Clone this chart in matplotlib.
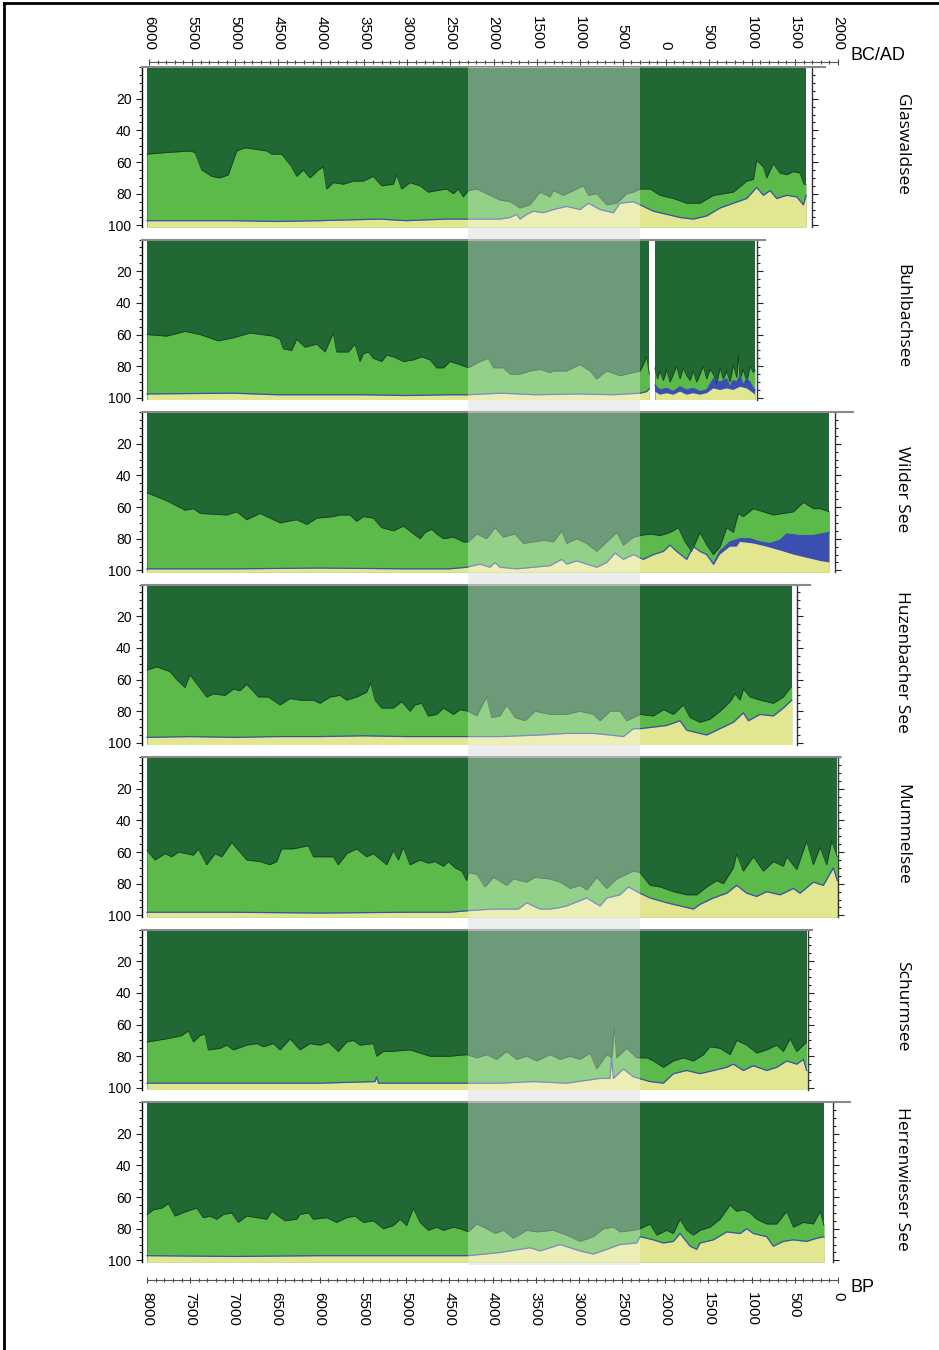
import numpy as np
import matplotlib.pyplot as plt
import matplotlib.transforms as mtransforms
from matplotlib.patches import Rectangle
from matplotlib.lines import Line2D
from matplotlib.ticker import FixedLocator, MultipleLocator

plt.rcParams['font.family'] = ['Liberation Sans Narrow', 'Liberation Sans', 'DejaVu Sans']

DARK = '#226835'
LIGHT = '#5cba4b'
YELLOW = '#e3e690'
BLUE = '#3a4fb0'
EDGE = '#173f22'

lakes = ['Glaswaldsee', 'Buhlbachsee', 'Wilder See', 'Huzenbacher See',
         'Mummelsee', 'Schurmsee', 'Herrenwieser See']

# ---- data: BP ages and cumulative percent boundaries (0 = top) ----
# Glaswaldsee
glas_bp_top = [8000, 7772, 7502, 7444, 7367, 7251, 7155, 7058, 6962, 6865, 6730, 6614, 6557, 6441, 6325,
               6267, 6190, 6113, 6016, 5959, 5920, 5843, 5727, 5611, 5495, 5380, 5283, 5148, 5110, 5052,
               4955, 4839, 4743, 4646, 4531, 4453, 4396, 4338, 4280, 4183, 4029, 3913, 3797, 3681, 3566,
               3450, 3334, 3296, 3180, 3064, 2948, 2890, 2794, 2678, 2562, 2447, 2369, 2292, 2176, 2061,
               1906, 1752, 1598, 1443, 1212, 1057, 980, 942, 864, 826, 749, 671, 594, 517, 440, 394, 370]
glas_trees = [55, 54, 53, 54, 65, 69, 70, 68, 53, 51, 52, 53, 55, 55, 63, 69, 65, 70, 65, 63,
              77, 73, 74, 72, 72, 69, 75, 74, 68, 77, 73, 75, 79, 78, 77, 80, 77, 82, 78, 77,
              81, 84, 85, 89, 87, 79, 82, 78, 81, 78, 75, 81, 80, 87, 86, 80, 79, 77, 77, 81,
              83, 86, 86, 81, 79, 72, 71, 59, 63, 70, 61, 67, 68, 66, 67, 74, 74]
glas_bp_low = [8000, 7000, 6500, 6000, 5300, 5000, 4531, 4280, 3913, 3797, 3720, 3681, 3604, 3527, 3411,
               3296, 3141, 2987, 2890, 2755, 2601, 2524, 2369, 2292, 2138, 1984, 1829, 1675, 1520, 1366,
               1212, 1057, 942, 864, 787, 710, 594, 478, 401, 370]
glas_light = [97, 97, 97.5, 97, 96, 97, 96, 96, 96, 95, 93, 96, 93, 91, 92, 90, 88, 90, 86, 90,
              92, 86, 85, 87, 91, 93, 95, 96, 94, 89, 86, 83, 76, 81, 78, 83, 81, 82, 87, 81]

# Buhlbachsee (two sections separated by a hiatus)
buhl_bp_top = [8000, 7772, 7560, 7386, 7174, 7000, 6807, 6537, 6460, 6422, 6325, 6267, 6171, 6036, 5939,
               5843, 5804, 5669, 5592, 5534, 5495, 5437, 5380, 5283, 5225, 5148, 5032, 4917, 4820, 4724,
               4646, 4569, 4492, 4376, 4280, 4145, 4048, 3990, 3875, 3797, 3681, 3566, 3450, 3334, 3296,
               3141, 2987, 2871, 2794, 2678, 2524, 2369, 2292, 2254, 2215, 2184]
buhl_trees = [60, 61, 58, 60, 64, 62, 59, 61, 63, 69, 70, 63, 68, 66, 71, 59, 71, 71, 66, 77,
              72, 71, 75, 77, 73, 74, 77, 76, 74, 76, 81, 81, 77, 79, 81, 77, 75, 81, 81, 85,
              85, 83, 82, 84, 83, 83, 79, 83, 88, 83, 86, 84, 83, 79, 74, 85]
buhl_bp_low = [8000, 7000, 6500, 5500, 5000, 4500, 4280, 3900, 3500, 3000, 2600, 2292, 2215, 2184]
buhl_light = [97.5, 97, 98, 98, 98.5, 98, 98, 97, 98, 97.5, 98, 97, 96, 94]

buhl2_bp_top = [2119, 2090, 2061, 2022, 1984, 1945, 1906, 1868, 1829, 1791, 1752, 1713, 1675, 1636, 1598,
                1559, 1520, 1482, 1443, 1405, 1366, 1328, 1289, 1250, 1212, 1173, 1154, 1134, 1096, 1057,
                1019, 980, 961]
buhl2_trees = [81, 88, 83, 89, 82, 90, 85, 80, 88, 81, 86, 89, 83, 90, 85, 80, 88, 82, 85, 91,
               81, 88, 83, 90, 79, 87, 73, 88, 82, 90, 80, 84, 82]
buhl2_bp_low = [2119, 2061, 1984, 1906, 1829, 1752, 1675, 1598, 1520, 1443, 1366, 1289, 1250, 1212, 1173,
                1134, 1096, 1057, 1019, 980, 961]
buhl2_light = [92, 95, 94, 96, 93, 95, 94, 96, 95, 88, 90, 88, 93, 89, 90, 86, 92, 88, 90, 94, 95]
buhl2_bp_yel = [2119, 2061, 1984, 1906, 1829, 1752, 1675, 1598, 1520, 1443, 1366, 1289, 1212, 1134, 1057,
                980, 961]
buhl2_yellow = [96, 98, 97, 98, 96, 98, 97, 98, 97, 94, 95, 94, 95, 93, 94, 97, 98]

# Wilder See
wild_bp_top = [8000, 7772, 7560, 7463, 7386, 7078, 6962, 6846, 6692, 6576, 6460, 6267, 6151, 6036, 5843,
               5766, 5650, 5573, 5495, 5380, 5283, 5148, 5032, 4936, 4839, 4781, 4704, 4646, 4569, 4453,
               4338, 4280, 4183, 4068, 3971, 3875, 3740, 3643, 3411, 3296, 3199, 3141, 3025, 2910, 2794,
               2678, 2562, 2485, 2369, 2292, 2176, 2061, 1945, 1848, 1771, 1694, 1598, 1520, 1443, 1366,
               1289, 1212, 1154, 1096, 980, 864, 749, 633, 517, 401, 286, 208, 100]
wild_trees = [51, 56, 62, 61, 64, 65, 63, 68, 64, 67, 70, 68, 71, 67, 66, 65, 65, 69, 66, 67,
              73, 75, 72, 76, 80, 76, 74, 77, 80, 79, 82, 82, 77, 80, 73, 79, 77, 83, 81, 82,
              75, 83, 80, 83, 88, 82, 76, 84, 79, 78, 77, 78, 76, 73, 82, 88, 76, 84, 90, 85,
              73, 76, 64, 66, 61, 63, 65, 64, 63, 57, 61, 61, 63]
wild_bp_low = [8000, 7000, 6000, 5000, 4500, 4299, 4145, 4029, 3971, 3913, 3720, 3527, 3334, 3199, 3141,
               3025, 2910, 2794, 2678, 2582, 2485, 2369, 2254, 2138, 2022, 1945, 1868, 1752, 1675, 1598,
               1520, 1443, 1366, 1250, 1134, 1019, 903, 787, 671, 594, 440, 286, 100]
wild_light = [99, 99, 98.5, 99, 99, 98, 96, 98, 95, 98, 99, 98, 97, 93, 96, 94, 96, 98, 95, 89,
              93, 90, 93, 90, 88, 84, 88, 93, 85, 88, 90, 96, 88, 82, 80, 80, 82, 83, 81, 77,
              78, 78, 76]
wild_bp_yel = [1443, 1366, 1250, 1173, 1134, 980, 826, 633, 517, 363, 208, 100]
wild_yellow = [97, 90, 85, 85, 82, 83, 85, 88, 90, 92, 94, 95]

# Huzenbacher See
huz_bp_top = [8000, 7888, 7734, 7656, 7560, 7502, 7406, 7309, 7232, 7097, 7000, 6923, 6846, 6711, 6595,
              6460, 6344, 6229, 6074, 5997, 5881, 5766, 5688, 5573, 5457, 5410, 5360, 5283, 5148, 5052,
              4955, 4897, 4820, 4743, 4646, 4569, 4453, 4376, 4280, 4183, 4068, 4010, 3913, 3836, 3740,
              3624, 3508, 3334, 3141, 2987, 2832, 2755, 2640, 2524, 2447, 2292, 2138, 2022, 1906, 1791,
              1713, 1598, 1482, 1366, 1250, 1192, 1134, 1096, 1019, 903, 749, 633, 536]
huz_trees = [54, 52, 55, 60, 65, 57, 64, 71, 69, 70, 66, 67, 63, 71, 71, 76, 72, 73, 73, 75,
             71, 70, 73, 71, 68, 62, 73, 78, 78, 74, 80, 76, 75, 83, 82, 78, 82, 79, 80, 83,
             71, 84, 83, 76, 84, 86, 80, 82, 82, 80, 82, 86, 80, 80, 86, 82, 83, 79, 82, 76,
             84, 87, 85, 80, 74, 69, 73, 66, 71, 73, 75, 71, 64]
huz_bp_low = [8000, 7500, 7000, 6500, 6000, 5500, 5000, 4500, 4280, 3913, 3681, 3450, 3141, 2832, 2640,
              2485, 2369, 2292, 2138, 1984, 1829, 1752, 1598, 1520, 1366, 1212, 1096, 1038, 903, 749,
              633, 536]
huz_light = [96.5, 96, 96.5, 96, 96, 95.5, 96, 96, 96, 96, 95.5, 95, 94, 94, 95, 96, 91, 91, 90, 89,
             86, 92, 94, 95, 91, 87, 81, 86, 82, 83, 78, 73]

# Mummelsee
mum_bp_top = [8000, 7907, 7792, 7714, 7637, 7541, 7463, 7406, 7309, 7213, 7135, 7020, 6846, 6692, 6576,
              6499, 6441, 6306, 6132, 6074, 5843, 5785, 5688, 5573, 5457, 5380, 5225, 5148, 5090, 5032,
              4955, 4839, 4743, 4666, 4569, 4511, 4434, 4357, 4299, 4280, 4183, 4087, 3990, 3836, 3759,
              3604, 3508, 3334, 3218, 3103, 2987, 2910, 2794, 2678, 2562, 2447, 2369, 2292, 2176, 2061,
              1906, 1752, 1636, 1520, 1405, 1328, 1212, 1173, 1096, 980, 864, 749, 633, 594, 478,
              363, 286, 208, 131, 73, 8]
mum_trees = [59, 65, 61, 63, 60, 61, 62, 58, 68, 61, 63, 54, 65, 66, 68, 66, 58, 58, 56, 63,
             63, 68, 61, 58, 63, 61, 68, 59, 65, 57, 68, 65, 67, 66, 69, 66, 70, 72, 78, 73,
             74, 82, 76, 81, 77, 79, 76, 77, 79, 83, 81, 84, 76, 83, 77, 74, 72, 73, 81, 82,
             85, 87, 87, 82, 78, 80, 70, 61, 72, 63, 72, 66, 69, 63, 71, 53, 68, 57, 68, 53, 63]
mum_bp_low = [8000, 7000, 6000, 5000, 4500, 4280, 4000, 3700, 3604, 3450, 3334, 3218, 3141, 2910, 2755,
              2678, 2524, 2427, 2292, 2176, 1984, 1829, 1675, 1598, 1443, 1289, 1173, 1057, 942, 826,
              671, 517, 440, 286, 170, 54, 8]
mum_light = [98, 98, 98.5, 98, 98, 97, 96, 96, 92, 96, 96, 95, 94, 89, 94, 89, 87, 82, 86, 89,
             92, 94, 96, 93, 89, 86, 81, 86, 88, 85, 87, 83, 86, 79, 81, 70, 78]

# Schurmsee
sch_bp_top = [8000, 7772, 7599, 7521, 7463, 7386, 7328, 7290, 7155, 7078, 7000, 6846, 6730, 6653, 6537,
              6460, 6344, 6229, 6113, 5997, 5901, 5785, 5688, 5611, 5534, 5380, 5341, 5264, 5187, 4955,
              4724, 4492, 4299, 4183, 4068, 3952, 3836, 3720, 3604, 3489, 3334, 3218, 3103, 2987, 2871,
              2794, 2678, 2620, 2589, 2562, 2447, 2331, 2215, 2138, 2022, 1906, 1791, 1675, 1559, 1482,
              1366, 1250, 1173, 1057, 942, 826, 710, 633, 556, 478, 363]
sch_trees = [71, 69, 67, 64, 71, 67, 66, 76, 75, 73, 76, 73, 72, 74, 72, 76, 69, 76, 72, 73,
             71, 77, 71, 70, 73, 72, 80, 77, 77, 76, 80, 80, 79, 81, 79, 82, 77, 82, 80, 83,
             79, 82, 80, 82, 78, 88, 79, 81, 62, 81, 75, 81, 81, 83, 87, 83, 81, 83, 79, 74,
             75, 79, 70, 73, 78, 76, 73, 77, 69, 77, 71]
sch_bp_low = [8000, 7000, 6000, 5360, 5341, 5320, 4500, 4000, 3913, 3527, 3141, 2755, 2640, 2620, 2600,
              2582, 2485, 2369, 2176, 2022, 1906, 1752, 1598, 1443, 1289, 1212, 1096, 980, 826, 710,
              594, 478, 401, 363]
sch_light = [97, 97, 97, 96, 93, 97, 97, 97, 97, 96, 97, 94, 94, 81, 94, 93, 88, 93, 96, 97,
             91, 89, 91, 89, 87, 85, 89, 86, 89, 87, 83, 85, 82, 89]

# Herrenwieser See
her_bp_top = [8000, 7927, 7830, 7753, 7676, 7541, 7425, 7348, 7271, 7193, 7116, 7020, 6943, 6846, 6730,
              6614, 6557, 6402, 6267, 6229, 6132, 6074, 5920, 5804, 5688, 5592, 5495, 5380, 5264, 5148,
              5071, 4994, 4917, 4839, 4743, 4646, 4569, 4453, 4376, 4280, 4183, 4068, 3971, 3875, 3759,
              3604, 3489, 3296, 3141, 2987, 2832, 2717, 2601, 2524, 2369, 2292, 2176, 2099, 1984, 1906,
              1829, 1752, 1675, 1598, 1482, 1366, 1250, 1173, 1096, 1019, 942, 826, 710, 594, 517,
              401, 286, 208, 162]
her_trees = [71, 68, 67, 64, 72, 69, 67, 73, 72, 74, 71, 70, 76, 72, 73, 74, 69, 75, 74, 71,
             70, 74, 73, 76, 73, 72, 76, 75, 80, 78, 74, 78, 67, 76, 81, 79, 81, 79, 80, 82,
             77, 80, 83, 81, 86, 81, 82, 81, 84, 88, 85, 80, 79, 82, 81, 80, 77, 84, 81, 83,
             74, 81, 84, 81, 79, 74, 65, 69, 68, 70, 74, 77, 77, 69, 79, 76, 77, 69, 78]
her_bp_low = [8000, 7000, 6000, 5000, 4500, 4280, 3913, 3681, 3566, 3450, 3218, 2987, 2832, 2678, 2524,
              2331, 2292, 2138, 2022, 1906, 1829, 1713, 1636, 1598, 1443, 1289, 1134, 1057, 980, 826,
              749, 633, 517, 363, 247, 162]
her_light = [97, 97.5, 97, 97, 97, 97, 95, 93, 92, 94, 90, 94, 96, 93, 90, 89, 85, 87, 89, 88,
             83, 91, 93, 89, 87, 82, 83, 80, 83, 85, 91, 88, 87, 88, 86, 85]

band_bp = [4280, 2292]            # highlighted period (BP)
bc_ticks = list(range(-6000, 2001, 500))
bc_labels = [str(abs(v)) for v in bc_ticks]
bp_ticks = list(range(8000, -1, -500))
bp_labels = [str(v) for v in bp_ticks]
pct_ticks = [20, 40, 60, 80, 100]
pct_labels = ['20', '40', '60', '80', '100']

segments = [
    [(glas_bp_top, glas_trees, glas_bp_low, glas_light, None, None)],
    [(buhl_bp_top, buhl_trees, buhl_bp_low, buhl_light, None, None),
     (buhl2_bp_top, buhl2_trees, buhl2_bp_low, buhl2_light, buhl2_bp_yel, buhl2_yellow)],
    [(wild_bp_top, wild_trees, wild_bp_low, wild_light, wild_bp_yel, wild_yellow)],
    [(huz_bp_top, huz_trees, huz_bp_low, huz_light, None, None)],
    [(mum_bp_top, mum_trees, mum_bp_low, mum_light, None, None)],
    [(sch_bp_top, sch_trees, sch_bp_low, sch_light, None, None)],
    [(her_bp_top, her_trees, her_bp_low, her_light, None, None)],
]
# layout: right spine and top border end, in BP
spine_bp = [300, 938, 40, 475, 0, 347, 58]
topline_bp = [150, 845, -174, 324, -20, 300, -139]

W, H = 939, 1350
fig = plt.figure(figsize=(W / 100, H / 100), dpi=100)


def fx(px):
    return px / W


def fy(py):
    return 1 - py / H


def draw_segment(ax, bp_top, trees, bp_low, light, bp_yel, yellow):
    bp_top, trees = np.asarray(bp_top), np.asarray(trees)
    bp_low, light = np.asarray(bp_low), np.asarray(light)
    ax.fill_between(bp_top, 0, 101, color=DARK, lw=0)
    ax.fill_between(bp_top, trees, 101, color=LIGHT, lw=0)
    ax.plot(bp_top, trees, color=EDGE, lw=0.6)
    ax.fill_between(bp_low, light, 101, color=YELLOW, lw=0)
    if bp_yel is not None:
        bp_yel, yellow = np.asarray(bp_yel), np.asarray(yellow)
        m = (bp_low <= bp_yel.max()) & (bp_low >= bp_yel.min())
        ax.fill(np.r_[bp_low[m], bp_yel[::-1]], np.r_[light[m], yellow[::-1]],
                color=BLUE, lw=0)
    ax.plot(bp_low, light, color=BLUE, lw=0.9)


panel_top, pitch, panel_h = 67, 172.5, 160
ax_left, ax_right = 141.8, 855.3
axes = []
for i, name in enumerate(lakes):
    top = panel_top + pitch * i
    ax = fig.add_axes([fx(ax_left), fy(top + panel_h), fx(ax_right - ax_left), panel_h / H])
    ax.set_xlim(8060, -200)
    ax.set_ylim(101, 0)
    ax.set_facecolor('none')
    for seg in segments[i]:
        draw_segment(ax, *seg)
    ax.set_xticks([])
    ax.yaxis.set_major_locator(FixedLocator(pct_ticks))
    ax.yaxis.set_minor_locator(MultipleLocator(5))
    ax.set_yticklabels(pct_labels, rotation=270, va='center', fontsize=11.5)
    ax.tick_params(axis='y', which='both', left=True, right=True, direction='out',
                   labelright=False, width=0.8, color='#222222', pad=3)
    ax.tick_params(axis='y', which='major', length=4.5)
    ax.tick_params(axis='y', which='minor', length=2.5)
    ax.spines['bottom'].set_visible(False)
    ax.spines['left'].set_linewidth(1.0)
    ax.spines['right'].set_position(('data', spine_bp[i]))
    ax.spines['right'].set_linewidth(1.0)
    ax.spines['right'].set_color('#333333')
    ax.spines['top'].set_bounds(8060, topline_bp[i])
    ax.spines['top'].set_color('#8a8a8a')
    ax.spines['top'].set_linewidth(1.5)
    fig.text(fx(902), fy(top + panel_h / 2 - 3), name, rotation=270, ha='center', va='center',
             fontsize=12.5, family='Open Sans')
    axes.append(ax)

# highlighted period band across all panels
trans = mtransforms.blended_transform_factory(axes[0].transData, fig.transFigure)
band_y0, band_y1 = fy(panel_top + pitch * 6 + panel_h + 3), fy(panel_top)
fig.add_artist(Rectangle((band_bp[0], band_y0), band_bp[1] - band_bp[0], band_y1 - band_y0,
                         transform=trans, facecolor='#e4e4e4', lw=0, zorder=-1))
fig.add_artist(Rectangle((band_bp[0], band_y0), band_bp[1] - band_bp[0], band_y1 - band_y0,
                         transform=trans, facecolor='white', alpha=0.34, lw=0, zorder=10))

# BC/AD axis on top
tax = fig.add_axes([fx(149), fy(62), fx(838 - 149), 0.0002])
tax.set_facecolor('none')
tax.set_xlim(-6000, 2000)
tax.set_yticks([])
for s in ['left', 'right', 'bottom']:
    tax.spines[s].set_visible(False)
tax.spines['top'].set_color('#555555')
tax.spines['top'].set_linewidth(0.8)
tax.xaxis.tick_top()
tax.set_xticks(bc_ticks)
tax.set_xticklabels(bc_labels, rotation=270, fontsize=11)
tax.xaxis.set_minor_locator(MultipleLocator(100))
tax.tick_params(axis='x', which='both', direction='inout', color='#444444', width=0.8, pad=6)
tax.tick_params(axis='x', which='major', length=5)
tax.tick_params(axis='x', which='minor', length=2.5)
fig.text(fx(851), fy(55), 'BC/AD', ha='left', va='center', fontsize=13, family='Liberation Sans')

# BP axis at bottom
bax = fig.add_axes([fx(147), fy(1280), fx(838 - 147), 0.0002])
bax.set_facecolor('none')
bax.set_xlim(8000, 0)
bax.set_yticks([])
for s in ['left', 'right', 'top']:
    bax.spines[s].set_visible(False)
bax.spines['bottom'].set_color('#555555')
bax.spines['bottom'].set_linewidth(0.8)
bax.set_xticks(bp_ticks)
bax.set_xticklabels(bp_labels, rotation=270, fontsize=11)
bax.xaxis.set_minor_locator(MultipleLocator(100))
bax.tick_params(axis='x', which='both', direction='inout', color='#444444', width=0.8, pad=6)
bax.tick_params(axis='x', which='major', length=5)
bax.tick_params(axis='x', which='minor', length=2.5)
fig.text(fx(850), fy(1287), 'BP', ha='left', va='center', fontsize=13, family='Liberation Sans')

# outer frame
fig.add_artist(Line2D([fx(4), fx(4)], [0, fy(3)], color='black', lw=2, transform=fig.transFigure))
fig.add_artist(Line2D([fx(4), 1], [fy(3), fy(3)], color='black', lw=2, transform=fig.transFigure))

fig.savefig('out.png', dpi=100)
